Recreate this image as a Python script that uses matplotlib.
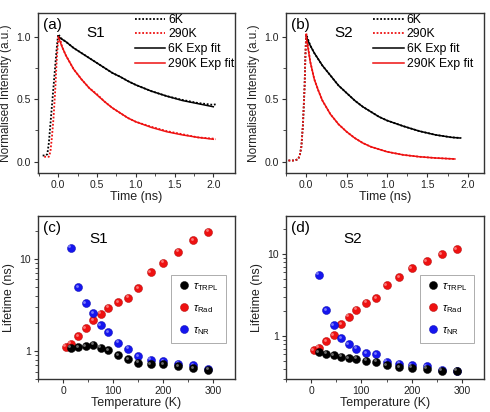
import matplotlib
matplotlib.use("Agg")
import matplotlib.pyplot as plt
import matplotlib.transforms as mtransforms

plt.rcParams['font.family'] = ['Liberation Sans', 'DejaVu Sans']
plt.rcParams['mathtext.fontset'] = 'custom'
plt.rcParams['mathtext.rm'] = 'Liberation Sans'
plt.rcParams['mathtext.it'] = 'Liberation Sans:italic'

# ---- Panel (a) S1 decay data ----
a_6k_t = [-0.20, -0.17, -0.14, -0.12, -0.10, -0.08, -0.06, -0.04, -0.02, 0.00, 0.05, 0.10, 0.20, 0.30, 0.40, 0.50, 0.60,
          0.70, 0.80, 0.90, 1.00, 1.20, 1.40, 1.60, 1.80, 2.00, 2.03]
a_6k_y = [0.05, 0.05, 0.06, 0.15, 0.30, 0.45, 0.60, 0.75, 0.90, 1.02, 0.98, 0.96, 0.91, 0.87, 0.83, 0.79, 0.75,
          0.71, 0.68, 0.645, 0.615, 0.565, 0.525, 0.495, 0.47, 0.455, 0.46]
a_290k_t = [-0.18, -0.15, -0.12, -0.10, -0.08, -0.06, -0.04, -0.02, 0.00, 0.02, 0.05, 0.10, 0.20, 0.30, 0.40, 0.50,
            0.60, 0.70, 0.80, 0.90, 1.00, 1.20, 1.40, 1.60, 1.80, 2.00, 2.03]
a_290k_y = [0.04, 0.04, 0.04, 0.08, 0.20, 0.35, 0.55, 0.80, 0.98, 1.00, 0.92, 0.85, 0.74, 0.66, 0.59, 0.54,
            0.48, 0.43, 0.39, 0.35, 0.32, 0.28, 0.245, 0.22, 0.195, 0.185, 0.18]
a_6k_fit_t = [0.00, 0.10, 0.20, 0.30, 0.40, 0.50, 0.60, 0.70, 0.80, 0.90, 1.00, 1.20, 1.40, 1.60, 1.80, 2.00]
a_6k_fit_y = [1.00, 0.96, 0.91, 0.87, 0.83, 0.79, 0.75, 0.71, 0.68, 0.645, 0.615, 0.565, 0.525, 0.49, 0.465, 0.44]
a_290k_fit_t = [0.00, 0.05, 0.10, 0.20, 0.30, 0.40, 0.50, 0.60, 0.70, 0.80, 0.90, 1.00, 1.20, 1.40, 1.60, 1.80, 2.00]
a_290k_fit_y = [1.00, 0.92, 0.85, 0.74, 0.66, 0.59, 0.535, 0.48, 0.43, 0.39, 0.35, 0.32, 0.275, 0.24, 0.215, 0.195, 0.18]

# ---- Panel (b) S2 decay data ----
b_6k_t = [-0.22, -0.15, -0.10, -0.08, -0.06, -0.04, -0.02, -0.01, 0.00, 0.05, 0.10, 0.20, 0.30, 0.40, 0.50, 0.60,
          0.70, 0.80, 0.90, 1.00, 1.20, 1.40, 1.60, 1.80, 1.92]
b_6k_y = [0.01, 0.01, 0.02, 0.05, 0.12, 0.30, 0.60, 0.85, 1.02, 0.93, 0.87, 0.77, 0.69, 0.61, 0.55, 0.49,
          0.44, 0.40, 0.36, 0.33, 0.285, 0.245, 0.215, 0.195, 0.19]
b_290k_t = [-0.22, -0.15, -0.10, -0.08, -0.06, -0.04, -0.02, -0.01, 0.00, 0.05, 0.10, 0.15, 0.20, 0.30, 0.40, 0.50,
            0.60, 0.70, 0.80, 1.00, 1.20, 1.40, 1.60, 1.84]
b_290k_y = [0.01, 0.01, 0.02, 0.05, 0.12, 0.30, 0.60, 0.85, 1.03, 0.80, 0.66, 0.57, 0.49, 0.38, 0.30, 0.24,
            0.19, 0.15, 0.12, 0.08, 0.055, 0.04, 0.03, 0.022]
b_6k_fit_t = [0.00, 0.05, 0.10, 0.20, 0.30, 0.40, 0.50, 0.60, 0.70, 0.80, 0.90, 1.00, 1.20, 1.40, 1.60, 1.80, 1.90]
b_6k_fit_y = [1.00, 0.93, 0.87, 0.77, 0.69, 0.61, 0.55, 0.49, 0.44, 0.40, 0.36, 0.33, 0.285, 0.245, 0.215, 0.195, 0.19]
b_290k_fit_t = [0.00, 0.05, 0.10, 0.15, 0.20, 0.30, 0.40, 0.50, 0.60, 0.70, 0.80, 1.00, 1.20, 1.40, 1.60, 1.84]
b_290k_fit_y = [1.00, 0.80, 0.66, 0.57, 0.49, 0.38, 0.30, 0.24, 0.19, 0.15, 0.12, 0.08, 0.055, 0.04, 0.03, 0.022]

# ---- Panel (c) S1 lifetimes ----
c_T = [15, 30, 45, 60, 75, 90, 110, 130, 150, 175, 200, 230, 260, 290]
c_T_rad = [5, 15, 30, 45, 60, 75, 90, 110, 130, 150, 175, 200, 230, 260, 290]
c_trpl = [1.09, 1.11, 1.13, 1.17, 1.09, 1.03, 0.90, 0.82, 0.75, 0.72, 0.72, 0.69, 0.65, 0.63]
c_rad = [1.12, 1.20, 1.46, 1.77, 2.18, 2.55, 2.95, 3.40, 3.80, 4.80, 7.1, 9.1, 11.9, 15.8, 19.7]
c_nr = [13.2, 4.95, 3.28, 2.58, 1.92, 1.61, 1.23, 1.06, 0.88, 0.81, 0.78, 0.73, 0.70, 0.64]

# ---- Panel (d) S2 lifetimes ----
d_T = [15, 30, 45, 60, 75, 90, 110, 130, 150, 175, 200, 230, 260, 290]
d_T_rad = [5, 15, 30, 45, 60, 75, 90, 110, 130, 150, 175, 200, 230, 260, 290]
d_trpl = [0.64, 0.61, 0.58, 0.56, 0.54, 0.53, 0.50, 0.49, 0.44, 0.42, 0.41, 0.40, 0.38, 0.38]
d_rad = [0.67, 0.72, 0.87, 1.02, 1.39, 1.72, 2.10, 2.56, 2.90, 4.17, 5.18, 6.7, 8.1, 10.0, 11.5]
d_nr = [5.58, 2.06, 1.35, 0.95, 0.80, 0.70, 0.62, 0.60, 0.49, 0.46, 0.44, 0.43, 0.39, 0.38]

RED = '#ee1111'
BLUE = '#1515ee'
FRAME = '#333333'
TXT = '#222222'

fig = plt.figure(figsize=(4.9, 4.12), dpi=100)
W, H = 490, 412

def add_ax(l, t, r, b):
    return fig.add_axes([l / W, 1 - b / H, (r - l) / W, (b - t) / H])

def style(ax):
    for s in ax.spines.values():
        s.set_color(FRAME)
        s.set_linewidth(1.0)
    ax.tick_params(axis='both', which='major', direction='out', length=3, width=0.8,
                   labelsize=7.5, colors=FRAME, labelcolor=TXT, pad=2)
    ax.tick_params(axis='both', which='minor', direction='out', length=2, width=0.6, colors=FRAME)

DOT = (0, (1, 1))

def decay_panel(ax, d6t, d6y, d2t, d2y, f6t, f6y, f2t, f2y, label, sample, xlim, leg_x, s_x):
    ax.plot(d6t, d6y, ls=DOT, color='black', lw=1.3, label='6K')
    ax.plot(d2t, d2y, ls=DOT, color=RED, lw=1.3, label='290K')
    ax.plot(f6t, f6y, ls='-', color='black', lw=1.1, label='6K Exp fit')
    ax.plot(f2t, f2y, ls='-', color=RED, lw=1.1, label='290K Exp fit')
    ax.set_xlim(*xlim)
    ax.set_ylim(-0.09, 1.19)
    ax.set_xticks([0.0, 0.5, 1.0, 1.5, 2.0])
    ax.set_xticks([0.25, 0.75, 1.25, 1.75, -0.25], minor=True)
    ax.set_yticks([0.0, 0.5, 1.0])
    ax.set_yticks([0.25, 0.75], minor=True)
    ax.xaxis.set_major_formatter(matplotlib.ticker.FormatStrFormatter('%.1f'))
    ax.yaxis.set_major_formatter(matplotlib.ticker.FormatStrFormatter('%.1f'))
    ax.set_xlabel('Time (ns)', fontsize=9, labelpad=1, color=TXT)
    ax.set_ylabel('Normalised Intensity (a.u.)', fontsize=8.5, labelpad=3, color=TXT)
    ax.text(0.025, 0.97, label, transform=ax.transAxes, fontsize=11, va='top', ha='left')
    ax.text(s_x, 0.92, sample, transform=ax.transAxes, fontsize=11, va='top', ha='left')
    ax.legend(loc='upper left', bbox_to_anchor=(leg_x, 0.995), frameon=False, fontsize=8.8,
              handlelength=2.5, handletextpad=0.25, labelspacing=0.22, borderaxespad=0.0,
              borderpad=0.0)
    style(ax)

ax_a = add_ax(38, 13, 235, 173)
decay_panel(ax_a, a_6k_t, a_6k_y, a_290k_t, a_290k_y, a_6k_fit_t, a_6k_fit_y, a_290k_fit_t, a_290k_fit_y,
            '(a)', 'S1', (-0.26, 2.28), 0.49, 0.245)
ax_b = add_ax(286, 13, 484, 173)
decay_panel(ax_b, b_6k_t, b_6k_y, b_290k_t, b_290k_y, b_6k_fit_t, b_6k_fit_y, b_290k_fit_t, b_290k_fit_y,
            '(b)', 'S2', (-0.25, 2.2), 0.44, 0.245)

def sphere(ax, x, y, color, edge, light, ms, label, z):
    h, = ax.plot(x, y, 'o', color=color, ms=ms, mec=edge, mew=0.3, label=label, zorder=z)
    off = mtransforms.offset_copy(ax.transData, fig=fig, x=-1.0, y=1.0, units='points')
    ax.plot(x, y, 'o', color=light, ms=ms * 0.35, mew=0, alpha=0.8, transform=off, zorder=z + 0.5)
    return h

def life_panel(ax, T, T_rad, trpl, rad, nr, label, sample, ylim, s_x):
    ms = 5.8
    sphere(ax, T_rad, rad, RED, '#aa0000', '#ff9090', ms, r'$\tau_{\mathrm{Rad}}$', 3)
    sphere(ax, T, nr, BLUE, '#0000aa', '#9090ff', ms, r'$\tau_{\mathrm{NR}}$', 3)
    sphere(ax, T, trpl, 'black', 'black', '#888888', ms, r'$\tau_{\mathrm{TRPL}}$', 4)
    ax.set_yscale('log')
    ax.set_xlim(-48, 344)
    ax.set_ylim(*ylim)
    ax.set_xticks([0, 100, 200, 300])
    ax.set_xticks([-50, 50, 150, 250], minor=True)
    ax.set_yticks([1, 10])
    ax.yaxis.set_major_formatter(matplotlib.ticker.FormatStrFormatter('%d'))
    ax.yaxis.set_minor_formatter(matplotlib.ticker.NullFormatter())
    ax.set_xlabel('Temperature (K)', fontsize=9, labelpad=1, color=TXT)
    ax.set_ylabel('Lifetime (ns)', fontsize=9, labelpad=3, color=TXT)
    ax.text(0.025, 0.97, label, transform=ax.transAxes, fontsize=11, va='top', ha='left')
    ax.text(s_x, 0.9, sample, transform=ax.transAxes, fontsize=11, va='top', ha='left')
    h, l = ax.get_legend_handles_labels()
    order = [2, 0, 1]
    leg = ax.legend([h[i] for i in order], [l[i] for i in order], loc='center right',
                    bbox_to_anchor=(0.98, 0.43), fontsize=8, frameon=True, fancybox=False,
                    edgecolor='#888888', handletextpad=0.2, labelspacing=0.9, borderpad=0.6,
                    handlelength=1.2)
    leg.get_frame().set_linewidth(0.6)
    style(ax)

ax_c = add_ax(38, 216, 235, 379)
life_panel(ax_c, c_T, c_T_rad, c_trpl, c_rad, c_nr, '(c)', 'S1', (0.5, 29), 0.26)
ax_d = add_ax(286, 216, 484, 379)
life_panel(ax_d, d_T, d_T_rad, d_trpl, d_rad, d_nr, '(d)', 'S2', (0.3, 29), 0.29)

fig.savefig('out.png', dpi=100)
